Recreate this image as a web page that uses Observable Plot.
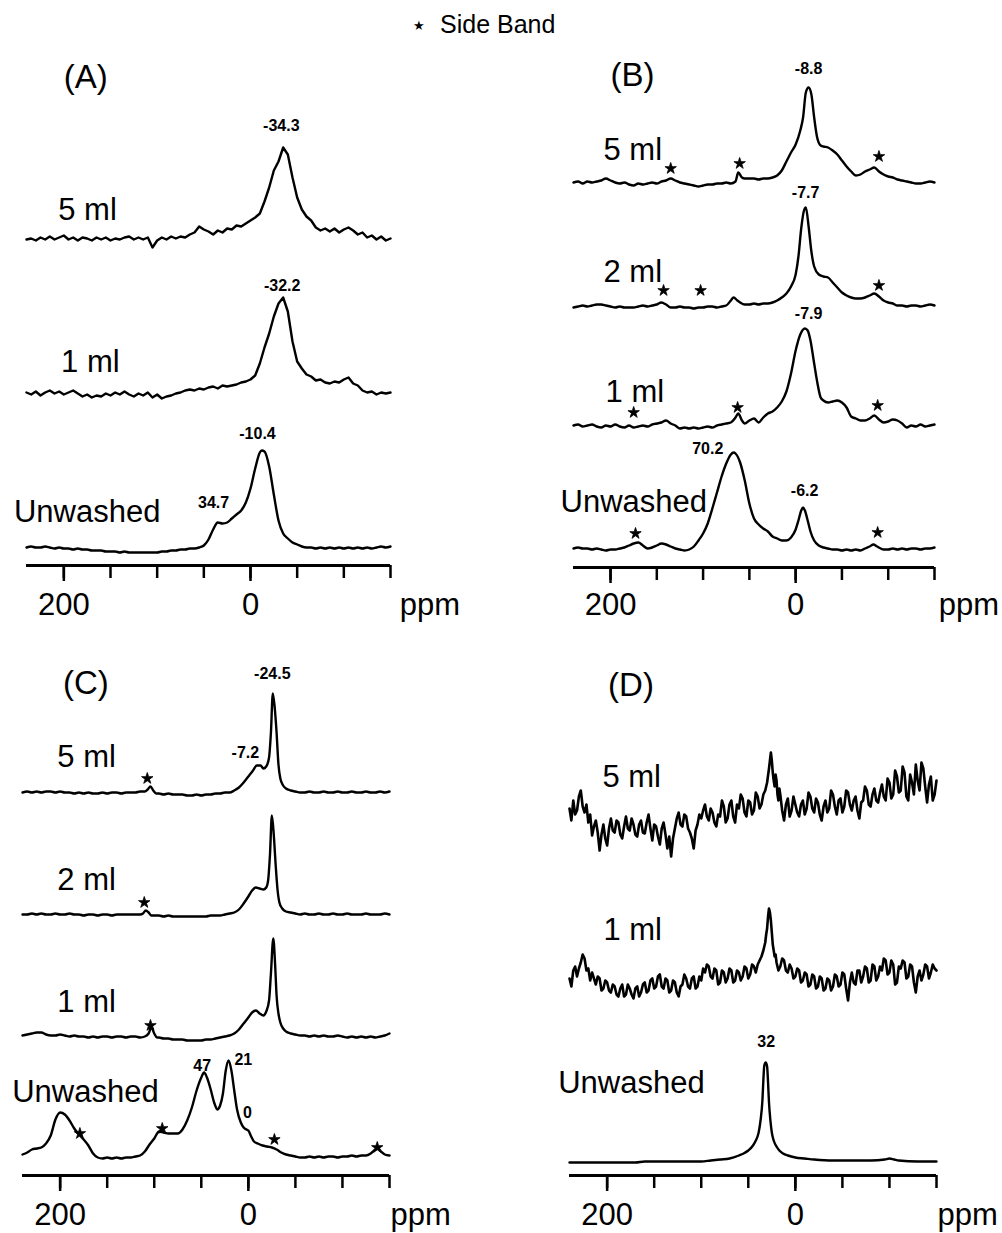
<!DOCTYPE html>
<html><head><meta charset="utf-8">
<script src="https://cdn.jsdelivr.net/npm/d3@7"></script>
<script src="https://cdn.jsdelivr.net/npm/@observablehq/plot@0.6"></script>
<style>
body{margin:0;background:#fff;}
#fig{position:relative;width:1002px;height:1233px;font-family:"Liberation Sans",Arial,Helvetica,sans-serif;color:#000;overflow:hidden;}
.panel{position:absolute;}
#legend{position:absolute;left:440px;top:12px;font-size:25px;line-height:25px;white-space:nowrap;}
#legstar{position:absolute;left:413px;top:19px;font-size:13px;line-height:13px;font-family:"DejaVu Sans",sans-serif;}
</style></head><body>
<div id="fig"><span id="legstar">★</span><div id="legend">Side Band</div></div>
<script>
// ---------------- DATA (ppm, intensity above baseline) ----------------
const A_5ml = [[240,2],[235,3],[230,1],[225,4],[220,2],[215,5],[210,2],[205,4],[200,6],[195,2],[190,4],[185,1],[180,4],[175,3],[170,1],[165,4],[160,2],[155,4],[150,1],[145,3],[140,2],[135,4],[130,5],[125,2],[120,4],[115,2],[110,4],[105,-6],[100,1],[95,4],[90,2],[85,5],[80,3],[75,5],[70,4],[65,7],[60,9],[55,15],[50,12],[45,10],[40,7],[35,11],[30,9],[25,13],[20,12],[15,16],[10,15],[5,18],[0,21],[-5,24],[-10,28],[-15,40],[-20,54],[-25,71],[-30,80],[-35,94],[-40,87],[-45,64],[-50,44],[-55,32],[-60,25],[-65,21],[-70,14],[-75,11],[-80,13],[-85,10],[-90,13],[-95,9],[-100,12],[-105,14],[-110,11],[-115,7],[-120,9],[-125,4],[-130,6],[-135,2],[-140,5],[-145,1],[-150,3]];
const A_1ml = [[240,1],[235,-1],[230,2],[225,-2],[220,1],[215,3],[210,0],[205,2],[200,-1],[195,1],[190,3],[185,0],[180,-3],[175,-1],[170,-4],[165,-2],[160,-3],[155,0],[150,-2],[145,1],[140,-1],[135,2],[130,-1],[125,-3],[120,0],[115,-2],[110,1],[105,-4],[100,-1],[95,-5],[90,-3],[85,-2],[80,0],[75,1],[70,3],[65,4],[60,3],[55,5],[50,4],[45,6],[40,7],[35,5],[30,8],[25,7],[20,8],[15,9],[10,11],[5,12],[0,14],[-5,18],[-10,30],[-15,46],[-20,60],[-25,77],[-30,90],[-35,96],[-40,82],[-45,52],[-50,32],[-55,25],[-60,19],[-65,17],[-70,13],[-75,14],[-80,11],[-85,10],[-90,12],[-95,11],[-100,14],[-105,16],[-110,10],[-115,8],[-120,3],[-125,1],[-130,2],[-135,-1],[-140,1],[-145,0],[-150,1]];
const A_unw = [[240,1],[235,2],[230,1],[225,1],[220,2],[215,1],[210,0],[205,1],[200,0],[195,0],[190,-1],[185,0],[180,-1],[175,-1],[170,-2],[165,-2],[160,-2],[155,-3],[150,-3],[145,-3],[140,-4],[135,-3],[130,-4],[125,-4],[120,-4],[115,-4],[110,-4],[105,-4],[100,-4],[95,-3],[90,-3],[85,-2],[80,-2],[75,-1],[70,-1],[65,0],[60,0],[55,1],[50,3],[45,9],[40,19],[35,26],[30,25],[25,26],[20,30],[15,34],[10,38],[5,46],[0,60],[-5,80],[-10,96],[-12,98],[-15,97],[-20,82],[-25,54],[-30,28],[-35,15],[-40,10],[-45,6],[-50,4],[-55,2],[-60,1],[-65,1],[-70,0],[-75,1],[-80,0],[-85,1],[-90,0],[-95,1],[-100,0],[-105,1],[-110,0],[-115,1],[-120,0],[-125,1],[-130,0],[-135,1],[-140,2],[-145,1],[-150,2]];

const B_5ml = [[240,0],[235,1],[230,-1],[225,1],[220,0],[215,1],[210,2],[205,4],[200,2],[195,0],[190,-1],[185,0],[180,-2],[175,-3],[170,-1],[165,-2],[160,-1],[155,0],[150,-1],[145,1],[140,2],[135,4],[130,2],[125,0],[120,-1],[115,-2],[110,-3],[105,-4],[100,-3],[95,-2],[90,-2],[85,-1],[80,-1],[75,0],[70,-1],[65,1],[62,10],[58,5],[55,4],[50,4],[45,4],[40,3],[35,4],[30,4],[25,5],[20,7],[15,12],[10,21],[5,30],[0,38],[-5,52],[-8,65],[-11,90],[-14,95],[-17,88],[-20,65],[-23,46],[-27,37],[-30,36],[-35,35],[-40,32],[-45,28],[-50,22],[-55,16],[-60,11],[-65,7],[-70,8],[-75,11],[-80,13],[-85,15],[-90,11],[-95,8],[-100,6],[-105,5],[-110,3],[-115,2],[-120,1],[-125,0],[-130,-1],[-135,-1],[-140,0],[-145,1],[-150,0]];
const B_2ml = [[240,-1],[235,0],[230,1],[225,0],[220,1],[215,2],[210,2],[205,1],[200,0],[195,-1],[190,0],[185,-1],[180,-1],[175,-1],[170,0],[165,1],[160,0],[155,1],[150,2],[145,4],[140,2],[135,-1],[130,-1],[125,0],[120,-1],[115,-1],[110,-2],[105,-1],[100,-1],[95,0],[90,0],[85,-1],[80,0],[75,1],[70,6],[67,9],[63,6],[60,4],[55,2],[50,2],[45,3],[40,2],[35,3],[30,3],[25,4],[20,6],[15,9],[10,13],[5,20],[0,32],[-3,50],[-6,78],[-9,96],[-11,99],[-14,80],[-17,55],[-20,40],[-25,32],[-30,30],[-35,29],[-40,24],[-45,19],[-50,14],[-55,11],[-60,9],[-65,8],[-70,8],[-75,9],[-80,11],[-85,13],[-90,10],[-95,6],[-100,4],[-105,3],[-110,1],[-115,1],[-120,0],[-125,1],[-130,1],[-135,0],[-140,1],[-145,2],[-150,1]];
const B_1ml = [[240,0],[235,1],[230,-1],[225,0],[220,1],[215,-1],[210,-2],[205,0],[200,-1],[195,1],[190,-1],[185,-2],[180,0],[175,-2],[170,-1],[165,0],[160,-1],[155,1],[150,2],[145,3],[140,5],[135,2],[130,0],[125,-3],[120,-2],[115,-3],[110,-2],[105,-3],[100,-2],[95,-1],[90,-2],[85,0],[80,1],[75,2],[70,3],[65,8],[62,12],[58,5],[55,2],[50,5],[45,7],[40,3],[35,8],[30,12],[25,14],[20,18],[15,24],[10,34],[5,52],[0,75],[-5,91],[-10,97],[-13,95],[-16,85],[-20,62],[-24,40],[-27,28],[-30,25],[-35,23],[-40,24],[-45,25],[-50,23],[-55,18],[-60,9],[-65,7],[-70,5],[-75,5],[-80,7],[-85,10],[-90,6],[-95,3],[-100,4],[-105,6],[-110,5],[-115,2],[-120,-2],[-125,0],[-130,-1],[-135,1],[-140,-1],[-145,0],[-150,1]];
const B_unw = [[240,0],[235,1],[230,0],[225,0],[220,-1],[215,0],[210,-1],[205,-2],[200,-1],[195,-1],[190,0],[185,1],[180,3],[175,5],[170,6],[165,3],[160,0],[155,1],[150,3],[145,5],[140,4],[135,2],[130,0],[125,-1],[120,-2],[115,-1],[110,2],[105,8],[100,15],[95,25],[90,40],[85,56],[80,72],[75,85],[70,94],[67,96],[65,95],[60,86],[55,68],[50,45],[45,30],[40,24],[35,20],[30,17],[25,12],[20,10],[15,8],[10,8],[5,11],[0,19],[-3,28],[-6,38],[-8,41],[-10,38],[-13,28],[-16,17],[-20,8],[-25,3],[-30,1],[-35,0],[-40,-1],[-45,-1],[-50,-2],[-55,-1],[-60,-2],[-65,-1],[-70,-2],[-75,0],[-80,2],[-84,4],[-88,2],[-92,0],[-95,-1],[-100,-1],[-105,0],[-110,-1],[-115,0],[-120,-1],[-125,0],[-130,0],[-135,-1],[-140,0],[-145,0],[-150,1]];

const C_5ml = [[240,0],[235,1],[230,0],[225,1],[220,0],[215,1],[210,1],[205,0],[200,1],[195,0],[190,0],[185,-1],[180,0],[175,-1],[170,0],[165,-1],[160,-1],[155,0],[150,-1],[145,0],[140,0],[135,-1],[130,0],[125,0],[120,0],[115,1],[110,1],[107,3],[104,6],[101,2],[98,-1],[95,-1],[90,-2],[85,-1],[80,-2],[75,-2],[70,-2],[65,-3],[60,-3],[55,-2],[50,-3],[45,-2],[40,-2],[35,-1],[30,-1],[25,0],[20,0],[15,2],[10,5],[5,10],[0,16],[-5,22],[-9,27],[-13,27],[-16,24],[-19,26],[-22,35],[-24,60],[-26,99],[-28,85],[-30,60],[-32,28],[-34,14],[-37,7],[-40,4],[-45,2],[-50,1],[-55,0],[-60,0],[-65,1],[-70,0],[-75,0],[-80,1],[-85,0],[-90,0],[-95,1],[-100,0],[-105,0],[-110,1],[-115,0],[-120,0],[-125,1],[-130,0],[-135,0],[-140,1],[-145,0],[-150,1]];
const C_2ml = [[240,0],[235,0],[230,1],[225,0],[220,1],[215,0],[210,0],[205,1],[200,0],[195,0],[190,1],[185,0],[180,0],[175,-1],[170,0],[165,0],[160,-1],[155,0],[150,0],[145,-1],[140,0],[135,0],[130,0],[125,0],[120,0],[115,0],[112,1],[109,4],[106,2],[103,-1],[100,-1],[95,-1],[90,-2],[85,-1],[80,-2],[75,-2],[70,-2],[65,-2],[60,-2],[55,-2],[50,-2],[45,-2],[40,-1],[35,-1],[30,-1],[25,0],[20,1],[15,2],[10,5],[5,11],[0,18],[-4,24],[-8,27],[-12,26],[-16,25],[-19,27],[-21,34],[-23,60],[-25,99],[-27,80],[-29,50],[-31,25],[-33,12],[-36,6],[-40,3],[-45,2],[-50,1],[-55,0],[-60,1],[-65,0],[-70,0],[-75,1],[-80,0],[-85,0],[-90,1],[-95,0],[-100,0],[-105,1],[-110,0],[-115,0],[-120,0],[-125,1],[-130,0],[-135,0],[-140,0],[-145,1],[-150,0]];
const C_1ml = [[240,0],[235,1],[230,2],[225,3],[220,3],[215,1],[210,0],[205,0],[200,1],[195,0],[190,-1],[185,0],[180,-1],[175,-1],[170,-2],[165,-1],[160,-2],[155,-1],[150,-1],[145,-2],[140,-1],[135,-1],[130,-2],[125,-1],[120,-1],[115,-2],[110,-1],[106,2],[103,8],[100,2],[97,-2],[95,-2],[90,-3],[85,-3],[80,-4],[75,-4],[70,-4],[65,-5],[60,-5],[55,-5],[50,-5],[45,-4],[40,-4],[35,-3],[30,-2],[25,-1],[20,0],[15,2],[10,6],[5,12],[0,18],[-4,23],[-8,25],[-12,22],[-16,20],[-19,24],[-22,35],[-24,62],[-26.5,97],[-28.5,70],[-30,40],[-32,22],[-34,13],[-37,7],[-40,4],[-45,2],[-50,1],[-55,0],[-60,0],[-65,-1],[-70,0],[-75,-1],[-80,0],[-85,-1],[-90,-1],[-95,0],[-100,-1],[-105,-2],[-110,-1],[-115,-2],[-120,-1],[-125,-2],[-130,-1],[-135,-2],[-140,-1],[-145,0],[-150,2]];
const C_unw = [[240,1],[235,3],[230,6],[225,7],[220,8],[215,12],[210,20],[205,36],[200,43],[195,41],[190,35],[185,27],[180,21],[175,16],[170,10],[165,2],[160,-2],[155,-3],[150,-2],[145,-3],[140,-2],[135,-3],[130,-2],[125,-2],[120,-1],[115,0],[110,4],[105,11],[100,17],[95,24],[90,23],[85,22],[80,22],[75,22],[70,26],[65,35],[60,48],[55,65],[50,78],[47,83],[44,78],[40,66],[36,52],[33,46],[30,50],[27,62],[24,85],[21,95],[18,85],[15,65],[12,46],[8,33],[5,28],[2,26],[0,25],[-3,19],[-6,14],[-10,12],[-15,10],[-20,9],[-25,8],[-30,6],[-35,3],[-40,1],[-45,0],[-50,-1],[-55,-2],[-60,-2],[-65,-1],[-70,-2],[-75,-1],[-80,-2],[-85,-1],[-90,-1],[-95,-2],[-100,-1],[-105,-1],[-110,0],[-115,-1],[-120,0],[-125,0],[-130,2],[-135,6],[-138,7],[-141,4],[-145,1],[-150,0]];

const D_5ml = [[240,22],[238,10],[236,30],[234,16],[232,20],[230,34],[228,40],[226,24],[224,18],[222,26],[220,8],[218,16],[216,-5],[214,4],[212,10],[210,-2],[208,-20],[206,-4],[204,6],[202,-8],[200,-15],[198,2],[196,12],[194,0],[192,-2],[190,10],[188,8],[186,-4],[184,-8],[182,4],[180,14],[178,2],[176,0],[174,12],[172,6],[170,-4],[168,-6],[166,6],[164,10],[162,-2],[160,-3],[158,8],[156,16],[154,2],[152,-10],[150,6],[148,4],[146,-6],[144,-14],[142,2],[140,8],[138,-4],[136,-18],[134,-6],[132,-26],[130,-8],[128,2],[126,12],[124,18],[122,6],[120,4],[118,16],[116,14],[114,2],[112,-2],[110,-8],[108,-18],[106,0],[104,6],[102,16],[100,12],[98,20],[96,26],[94,14],[92,10],[90,22],[88,18],[86,8],[84,4],[82,16],[80,14],[78,30],[76,24],[74,8],[72,12],[70,26],[68,30],[66,14],[64,8],[62,26],[60,22],[58,36],[56,32],[54,18],[52,14],[50,30],[48,28],[46,16],[44,20],[42,38],[40,34],[38,22],[36,26],[34,36],[32,40],[30,48],[28,62],[27,70],[26,78],[25,70],[24,58],[23,50],[22,44],[21,56],[20,50],[19,36],[18,30],[17,42],[16,36],[14,20],[12,10],[10,26],[8,32],[6,14],[4,20],[2,34],[0,26],[-2,18],[-4,14],[-6,26],[-8,30],[-10,16],[-12,22],[-14,38],[-16,34],[-18,22],[-20,18],[-22,32],[-24,28],[-26,16],[-28,10],[-30,24],[-32,30],[-34,18],[-36,22],[-38,40],[-40,36],[-42,24],[-44,16],[-46,30],[-48,32],[-50,18],[-52,24],[-54,40],[-56,38],[-58,26],[-60,20],[-62,30],[-64,34],[-66,20],[-68,12],[-70,28],[-72,30],[-74,44],[-76,40],[-78,26],[-80,24],[-82,36],[-84,42],[-86,30],[-88,28],[-90,38],[-92,46],[-94,34],[-96,30],[-98,52],[-100,48],[-102,32],[-104,36],[-106,60],[-108,54],[-110,38],[-112,40],[-114,64],[-116,58],[-118,34],[-120,30],[-122,56],[-124,48],[-126,36],[-128,66],[-130,50],[-132,40],[-134,68],[-136,62],[-138,44],[-140,28],[-142,46],[-144,54],[-146,30],[-148,36],[-150,50]];
const D_1ml = [[240,12],[238,4],[236,20],[234,24],[232,14],[230,22],[228,28],[226,36],[224,32],[222,20],[220,22],[218,10],[216,18],[214,12],[212,6],[210,14],[208,12],[206,0],[204,2],[202,10],[200,8],[198,0],[196,-2],[194,6],[192,4],[190,-4],[188,-6],[186,2],[184,6],[182,-6],[180,-4],[178,6],[176,2],[174,-4],[172,-8],[170,2],[168,4],[166,-6],[164,-2],[162,6],[160,8],[158,-2],[156,0],[154,10],[152,12],[150,2],[148,4],[146,14],[144,16],[142,4],[140,2],[138,12],[136,10],[134,-2],[132,0],[130,10],[128,8],[126,-2],[124,-6],[122,4],[120,6],[118,16],[116,12],[114,4],[112,2],[110,12],[108,14],[106,2],[104,4],[102,14],[100,10],[98,22],[96,18],[94,26],[92,24],[90,14],[88,12],[86,22],[84,20],[82,6],[80,8],[78,20],[76,18],[74,8],[72,12],[70,22],[68,20],[66,8],[64,10],[62,20],[60,18],[58,10],[56,14],[54,24],[52,22],[50,12],[48,16],[46,26],[44,24],[42,18],[40,26],[38,30],[36,34],[34,40],[32,48],[31,56],[30,62],[29,74],[28,82],[27,78],[26,70],[25,58],[24,46],[23,40],[22,34],[21,36],[20,28],[18,20],[16,24],[14,32],[12,30],[10,20],[8,18],[6,26],[4,22],[2,12],[0,14],[-2,22],[-4,20],[-6,8],[-8,10],[-10,18],[-12,16],[-14,4],[-16,6],[-18,16],[-20,14],[-22,2],[-24,4],[-26,14],[-28,12],[-30,0],[-32,2],[-34,12],[-36,10],[-38,0],[-40,4],[-42,16],[-44,14],[-46,4],[-48,6],[-50,18],[-52,16],[-54,2],[-56,-10],[-58,8],[-60,18],[-62,8],[-64,6],[-66,20],[-68,20],[-70,8],[-72,14],[-74,24],[-76,22],[-78,8],[-80,10],[-82,26],[-84,24],[-86,10],[-88,14],[-90,24],[-92,20],[-94,32],[-96,30],[-98,16],[-100,18],[-102,30],[-104,26],[-106,6],[-108,8],[-110,24],[-112,22],[-114,30],[-116,28],[-118,12],[-120,14],[-122,26],[-124,24],[-126,8],[-128,-2],[-130,14],[-132,20],[-134,10],[-136,16],[-138,26],[-140,24],[-142,12],[-144,18],[-146,26],[-148,22],[-150,20]];
const D_unw = [[240,0],[230,0],[220,0],[210,0],[200,0],[190,0],[180,0],[170,0],[160,1],[150,1],[140,1],[130,1],[120,1],[110,1],[100,1],[90,2],[80,3],[70,4],[60,7],[55,9],[50,12],[45,17],[42,22],[39,30],[37,42],[35,62],[34,82],[33,97],[31.5,100],[30,96],[29,80],[28,60],[26.5,42],[25,30],[23,22],[20,16],[17,12],[13,9],[8,7],[0,5],[-10,4],[-20,3],[-40,2],[-60,2],[-80,2],[-95,3],[-100,4],[-105,3],[-110,2],[-130,1],[-150,1]];

const ticksAll = [200,150,100,50,0,-50,-100,-150];
const ticksLabeled = [200,0];
const panelTitles = ["(A)","(B)","(C)","(D)"];
const samplesA = ["5 ml","1 ml","Unwashed"];
const samplesB = ["5 ml","2 ml","1 ml","Unwashed"];
const samplesC = ["5 ml","2 ml","1 ml","Unwashed"];
const samplesD = ["5 ml","1 ml","Unwashed"];
const peaksA = ["-34.3","-32.2","34.7","-10.4"];
const peaksB = ["-8.8","-7.7","-7.9","70.2","-6.2"];
const peaksC = ["-24.5","-7.2","47","21","0"];
const peaksD = ["32"];
const unitLabel = "ppm";

// ---------------- LAYOUT ----------------
const FONT = "'Liberation Sans', Arial, Helvetica, sans-serif";
const panels = [
  {title: panelTitles[0], left:0, top:0, width:501, height:616, axis:565, mL:26, mR:111, pad:11,
   spectra:[{d:A_5ml,off:324,c:"linear",w:2.4},{d:A_1ml,off:172,c:"linear",w:2.4},{d:A_unw,off:17,c:"monotone-x",w:2.4}],
   titleAt:[200,488], samples:samplesA, sampleAt:[[206,355],[203,203],[253.5,53]],
   peaks:peaksA, peakAt:[[-33,440],[-34,280],[39.6,63],[-7.5,132]], stars:[], ppmX:-160},
  {title: panelTitles[1], left:501, top:0, width:501, height:616, axis:567, mL:72, mR:68, pad:9,
   spectra:[{d:B_5ml,off:385,c:"monotone-x",w:2.4},{d:B_2ml,off:261,c:"monotone-x",w:2.4},{d:B_1ml,off:142,c:"monotone-x",w:2.4},{d:B_unw,off:19,c:"monotone-x",w:2.4}],
   titleAt:[200,492], samples:samplesB, sampleAt:[[207.6,417],[207.6,295],[205.4,175],[254,65]],
   peaks:peaksB, peakAt:[[-14,499],[-10.8,375],[-14,254],[95,119],[-9.7,77]],
   stars:[[135,399],[60.5,404],[-90,411],[142.7,277],[102.7,277],[-90,282],[175,155],[62.7,160],[-88.6,162],[173,34],[-88.6,35]], ppmX:-154.6},
  {title: panelTitles[2], left:0, top:616, width:501, height:617, axis:559, mL:22, mR:112, pad:11,
   spectra:[{d:C_5ml,off:383,c:"monotone-x",w:2.4},{d:C_2ml,off:261,c:"monotone-x",w:2.4},{d:C_1ml,off:140,c:"monotone-x",w:2.4},{d:C_unw,off:20,c:"monotone-x",w:2.4}],
   titleAt:[197,492], samples:samplesC, sampleAt:[[203,418],[203,295],[203,173],[251,83]],
   peaks:peaksC, peakAt:[[-25.5,502],[3.2,423],[49,110],[5.3,116],[1,63]],
   stars:[[107.4,397],[110.6,273],[104,150],[179,42],[91.5,47],[-27.7,36],[-137,28]], ppmX:-151},
  {title: panelTitles[3], left:501, top:616, width:501, height:617, axis:559, mL:68, mR:66, pad:11,
   spectra:[{d:D_5ml,off:345,c:"linear",w:2.6},{d:D_1ml,off:185,c:"linear",w:2.6},{d:D_unw,off:13,c:"monotone-x",w:2.4}],
   titleAt:[199,490], samples:samplesD, sampleAt:[[205,398],[204,245],[252,92]],
   peaks:peaksD, peakAt:[[31,134]], stars:[], ppmX:-151}
];

const fig = document.getElementById("fig");
for (const p of panels) {
  const marks = [];
  for (const s of p.spectra) {
    marks.push(Plot.line(s.d, {x: d => d[0], y: d => d[1] + s.off, stroke: "#000", strokeWidth: s.w, strokeLinejoin: "round", curve: s.c}));
  }
  marks.push(Plot.ruleY([0], {stroke: "#000", strokeWidth: 3}));
  marks.push(Plot.axisX({ticks: ticksAll, tickSize: 13, tickFormat: () => "", strokeWidth: 2.5, label: null}));
  marks.push(Plot.axisX({ticks: ticksLabeled, tickSize: 16, tickPadding: p.pad, tickFormat: d => String(d), fontSize: 31, strokeWidth: 2.5, label: null}));
  marks.push(Plot.text([unitLabel], {x: p.ppmX, y: 0, dy: 16 + p.pad, text: d => d, textAnchor: "start", lineAnchor: "top", fontSize: 31}));
  marks.push(Plot.text([p.title], {x: p.titleAt[0], y: p.titleAt[1], text: d => d, textAnchor: "start", lineAnchor: "middle", fontSize: 33}));
  marks.push(Plot.text(p.samples, {x: (d, i) => p.sampleAt[i][0], y: (d, i) => p.sampleAt[i][1], text: d => d, textAnchor: "start", lineAnchor: "middle", fontSize: 31}));
  marks.push(Plot.text(p.peaks, {x: (d, i) => p.peakAt[i][0], y: (d, i) => p.peakAt[i][1], text: d => d, textAnchor: "middle", lineAnchor: "middle", fontSize: 16, fontWeight: "bold"}));
  if (p.stars.length) marks.push(Plot.dot(p.stars, {x: d => d[0], y: d => d[1], symbol: "star", r: 3.6, fill: "#000", stroke: "#000", strokeWidth: 0.8}));
  const chart = Plot.plot({
    width: p.width, height: p.height,
    marginLeft: p.mL, marginRight: p.mR, marginTop: 0, marginBottom: p.height - p.axis,
    x: {domain: [240, -150]},
    y: {domain: [0, p.axis], axis: null},
    style: {fontFamily: FONT, background: "transparent", color: "#000", overflow: "visible"},
    marks
  });
  const wrap = document.createElement("div");
  wrap.className = "panel";
  wrap.style.left = p.left + "px";
  wrap.style.top = p.top + "px";
  wrap.style.width = p.width + "px";
  wrap.style.height = p.height + "px";
  wrap.appendChild(chart);
  fig.appendChild(wrap);
}
</script>
</body></html>
